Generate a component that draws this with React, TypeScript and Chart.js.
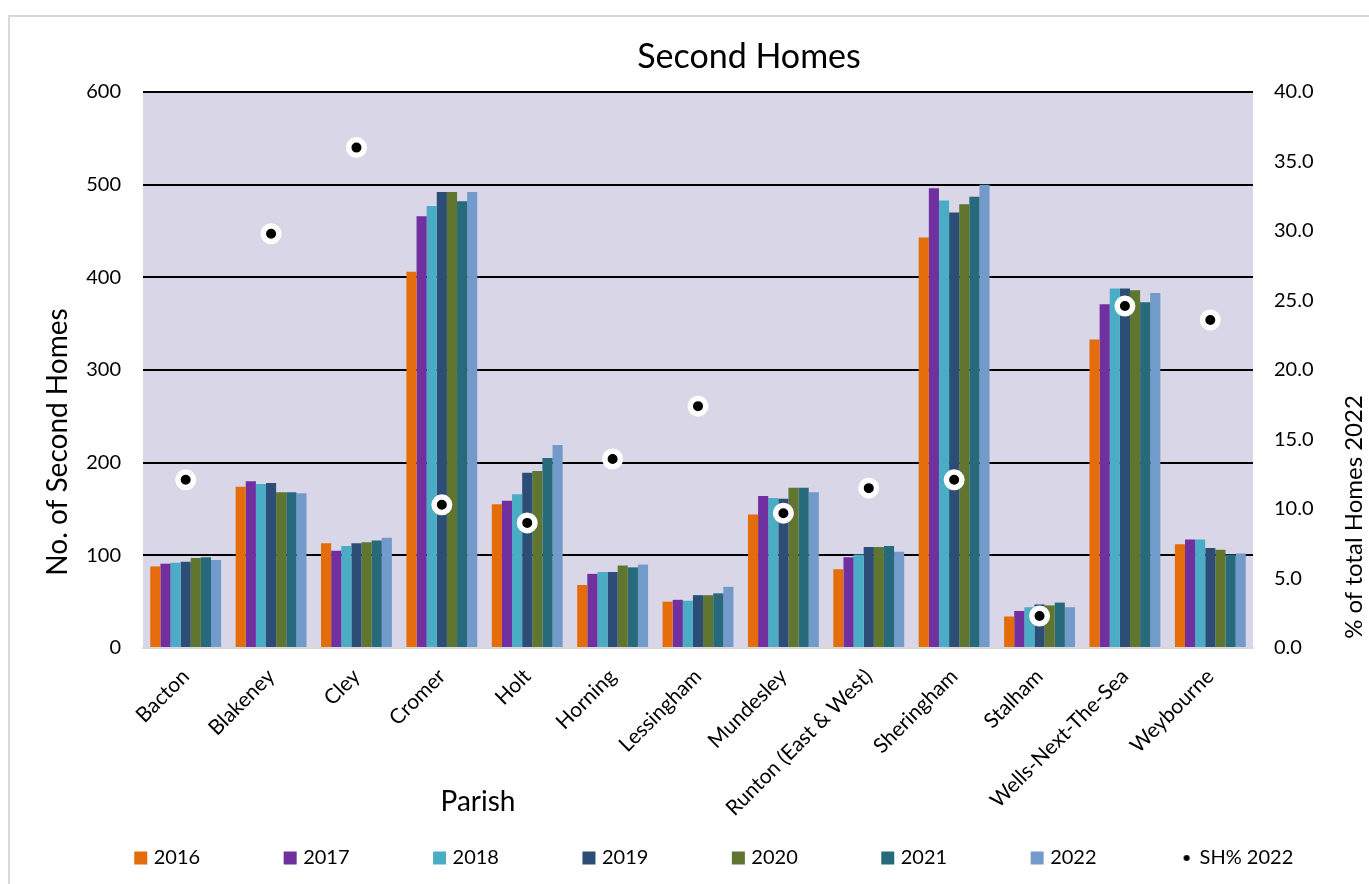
import React, { useEffect, useRef } from 'react';
import { Chart, registerables } from 'chart.js';

Chart.register(...registerables);

const parishes = [
  'Bacton', 'Blakeney', 'Cley', 'Cromer', 'Holt', 'Horning', 'Lessingham',
  'Mundesley', 'Runton (East & West)', 'Sheringham', 'Stalham', 'Wells-Next-The-Sea', 'Weybourne',
];

const years = ['2016', '2017', '2018', '2019', '2020', '2021', '2022'];

const homes2016 = [88, 174, 113, 406, 155, 68, 50, 144, 85, 443, 34, 333, 112];
const homes2017 = [91, 180, 105, 466, 159, 80, 52, 164, 98, 496, 40, 371, 117];
const homes2018 = [92, 177, 110, 477, 166, 82, 51, 162, 101, 483, 44, 388, 117];
const homes2019 = [93, 178, 113, 492, 189, 82, 57, 161, 109, 470, 47, 388, 108];
const homes2020 = [97, 168, 114, 492, 191, 89, 57, 173, 109, 479, 46, 386, 106];
const homes2021 = [98, 168, 116, 482, 205, 87, 59, 173, 110, 487, 49, 373, 101];
const homes2022 = [95, 167, 119, 492, 219, 90, 66, 168, 104, 500, 44, 383, 102];

const shPercent2022 = [12.1, 29.8, 36.0, 10.3, 9.0, 13.6, 17.4, 9.7, 11.5, 12.1, 2.3, 24.6, 23.6];

const leftAxisMin = 0;
const leftAxisMax = 600;
const leftAxisStep = 100;
const rightAxisMin = 0;
const rightAxisMax = 40;
const rightAxisStep = 5;

const chartTitle = 'Second Homes';
const xAxisTitle = 'Parish';
const leftAxisTitle = 'No. of Second Homes';
const rightAxisTitle = '% of total Homes 2022';
const pointLabel = 'SH% 2022';

const yearColors = ['#E46C0A', '#7030A0', '#4BACC6', '#2C4D75', '#5F7530', '#276A7C', '#729ACA'];
const PLOT_BG = '#D9D6E8';
const FONT = 'Lato, "Open Sans", sans-serif';

const plotBackground = {
  id: 'plotBackground',
  beforeDraw(chart: any) {
    const { ctx, chartArea } = chart;
    if (!chartArea) return;
    ctx.save();
    ctx.fillStyle = PLOT_BG;
    ctx.fillRect(chartArea.left, chartArea.top, chartArea.right - chartArea.left, chartArea.bottom - chartArea.top);
    ctx.restore();
  },
};

// let rotated category labels run past the axis box (no clipping)
const unclipLabels = {
  id: 'unclipLabels',
  afterLayout(chart: any) {
    const x = chart.scales.x;
    if (x) x.bottom = chart.height;
  },
};

const titlesPlugin = {
  id: 'titlesPlugin',
  afterDraw(chart: any) {
    const { ctx } = chart;
    ctx.save();
    ctx.fillStyle = '#000';
    ctx.textAlign = 'center';
    ctx.textBaseline = 'middle';
    ctx.font = `34px ${FONT}`;
    ctx.fillText(chartTitle, 749, 57);
    ctx.font = `28px ${FONT}`;
    ctx.fillText(xAxisTitle, 478, 802);
    ctx.save();
    ctx.translate(58, 442);
    ctx.rotate(-Math.PI / 2);
    ctx.fillText(leftAxisTitle, 0, 0);
    ctx.restore();
    ctx.save();
    ctx.font = `24px ${FONT}`;
    ctx.translate(1354, 517);
    ctx.rotate(-Math.PI / 2);
    ctx.fillText(rightAxisTitle, 0, 0);
    ctx.restore();
    ctx.restore();
  },
};

export default function App() {
  const canvasRef = useRef<HTMLCanvasElement | null>(null);

  useEffect(() => {
    const canvas = canvasRef.current;
    if (!canvas) return;

    const dot = document.createElement('canvas');
    dot.width = 8;
    dot.height = 8;
    const dctx = dot.getContext('2d');
    if (dctx) {
      dctx.fillStyle = '#000';
      dctx.beginPath();
      dctx.arc(4, 4, 3, 0, Math.PI * 2);
      dctx.fill();
    }

    const series = [homes2016, homes2017, homes2018, homes2019, homes2020, homes2021, homes2022];

    const barSets = series.map((values, i) => ({
      type: 'bar' as const,
      label: years[i],
      data: values,
      backgroundColor: yearColors[i],
      borderWidth: 0,
      yAxisID: 'y',
      order: 1,
      categoryPercentage: 0.83,
      barPercentage: 1.0,
    }));

    const pointSet = {
      type: 'line' as const,
      label: pointLabel,
      data: shPercent2022,
      yAxisID: 'y1',
      showLine: false,
      pointRadius: 7.75,
      pointBorderWidth: 5.5,
      pointBackgroundColor: '#000',
      pointBorderColor: '#fff',
      order: 0,
    };

    Chart.defaults.font.family = FONT;
    Chart.defaults.color = '#000';

    const chart = new Chart(canvas, {
      data: {
        labels: parishes,
        datasets: [...barSets, pointSet] as any,
      },
      options: {
        responsive: false,
        animation: false,
        events: [],
        layout: { padding: { left: 40, right: -22, top: 92, bottom: 6 } },
        plugins: {
          title: { display: false },
          tooltip: { enabled: false },
          legend: {
            position: 'bottom',
            labels: {
              usePointStyle: true,
              boxWidth: 6,
              boxHeight: 13,
              padding: 87,
              color: '#000',
              font: { size: 20, family: FONT },
              generateLabels: (c: any) =>
                c.data.datasets.map((ds: any, i: number) => ({
                  text: ds.label,
                  fillStyle: ds.type === 'line' ? '#000' : ds.backgroundColor,
                  strokeStyle: 'rgba(0,0,0,0)',
                  lineWidth: 0,
                  pointStyle: ds.type === 'line' ? dot : 'rect',
                  fontColor: '#000',
                  hidden: false,
                  datasetIndex: i,
                })),
            },
          },
        },
        scales: {
          x: {
            type: 'category',
            grid: { display: false },
            border: { display: true, color: '#D9D9D9', width: 2 },
            ticks: {
              minRotation: 45,
              maxRotation: 45,
              autoSkip: false,
              padding: 8,
              color: '#000',
              font: { size: 21, family: FONT },
            },
            afterFit: (s: any) => {
              s.height = 113;
            },
          },
          y: {
            type: 'linear',
            position: 'left',
            min: leftAxisMin,
            max: leftAxisMax,
            ticks: {
              stepSize: leftAxisStep,
              padding: 22,
              color: '#000',
              font: { size: 20, family: FONT },
            },
            grid: {
              color: (ctx: any) => (ctx.tick && ctx.tick.value === 0 ? 'rgba(0,0,0,0)' : '#000'),
              lineWidth: 2,
              drawTicks: false,
            },
            border: { display: false },
            afterFit: (s: any) => {
              s.width = 103;
            },
          },
          y1: {
            type: 'linear',
            position: 'right',
            min: rightAxisMin,
            max: rightAxisMax,
            ticks: {
              stepSize: rightAxisStep,
              padding: 21,
              color: '#000',
              font: { size: 20, family: FONT },
              callback: (v: any) => Number(v).toFixed(1),
            },
            grid: { display: false, drawTicks: false },
            border: { display: false },
            afterFit: (s: any) => {
              s.width = 138;
            },
          },
        },
      } as any,
      plugins: [plotBackground, unclipLabels, titlesPlugin],
    });

    return () => {
      chart.destroy();
    };
  }, []);

  return (
    <div style={{ position: 'fixed', left: 0, top: 0, width: 1369, height: 884, overflow: 'hidden', background: '#fff' }}>
      <div
        style={{
          position: 'absolute',
          left: 8,
          top: 15,
          width: 1400,
          height: 900,
          border: '2px solid #D9D9D9',
          boxSizing: 'border-box',
        }}
      />
      <canvas
        ref={canvasRef}
        width={1369}
        height={884}
        style={{ position: 'absolute', left: 0, top: 0, width: 1369, height: 884 }}
      />
    </div>
  );
}
